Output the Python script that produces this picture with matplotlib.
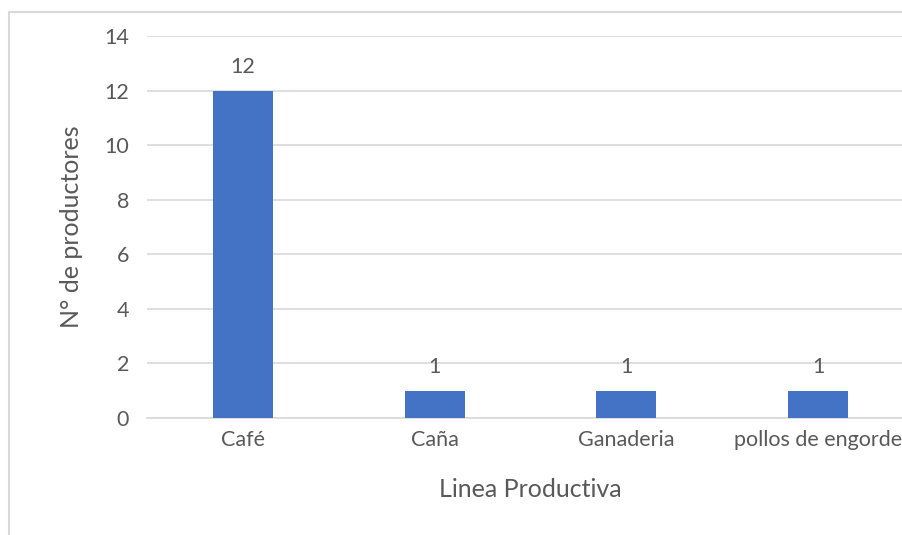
import numpy as np
import matplotlib.pyplot as plt
from matplotlib.patches import Rectangle

# data
categorias = ['Café', 'Caña', 'Ganaderia', 'pollos de engorde']
productores = [12, 1, 1, 1]
yticks = [0, 2, 4, 6, 8, 10, 12, 14]

W, H = 902, 535
gris = '#595959'
plt.rcParams['font.family'] = ['Lato', 'DejaVu Sans']

fig = plt.figure(figsize=(W / 100, H / 100), dpi=100)
# axes extends past the right edge, as in the cropped original
ax = fig.add_axes([147 / W, (H - 418) / H, (914 - 147) / W, (418 - 36) / H])

x = np.arange(len(categorias))
ax.bar(x, productores, width=0.313, color='#4472C4', zorder=3)
for xi, v in zip(x, productores):
    ax.text(xi, v + 0.5, str(v), ha='center', va='bottom', fontsize=15.5, color=gris)

ax.set_xlim(-0.5, len(categorias) - 0.5)
ax.set_ylim(0, 14)
ax.set_yticks(yticks)
ax.set_xticks(x)
ax.set_xticklabels(categorias)
ax.grid(axis='y', color='#d9d9d9', linewidth=1.2, zorder=0)
for s in ['top', 'right', 'left']:
    ax.spines[s].set_visible(False)
ax.spines['bottom'].set_color('#d9d9d9')
ax.spines['bottom'].set_linewidth(1.2)
ax.tick_params(axis='both', length=0, labelsize=15.5, colors=gris)
ax.tick_params(axis='y', pad=13)
ax.tick_params(axis='x', pad=9)
ax.set_ylabel('N° de productores', fontsize=18, color=gris)
ax.yaxis.set_label_coords(-(147 - 83) / (914 - 147), 0.5)
ax.set_xlabel('Linea Productiva', fontsize=18, color=gris)
ax.xaxis.set_label_coords((530 - 147) / (914 - 147), -(478 - 418) / (418 - 36))

# outer chart border
fig.patches.append(Rectangle((9 / W, -0.1), 1.2, 1.1 - 12 / H, transform=fig.transFigure,
                             fill=False, edgecolor='#d9d9d9', linewidth=1.5))

fig.savefig('out.png', dpi=100)
